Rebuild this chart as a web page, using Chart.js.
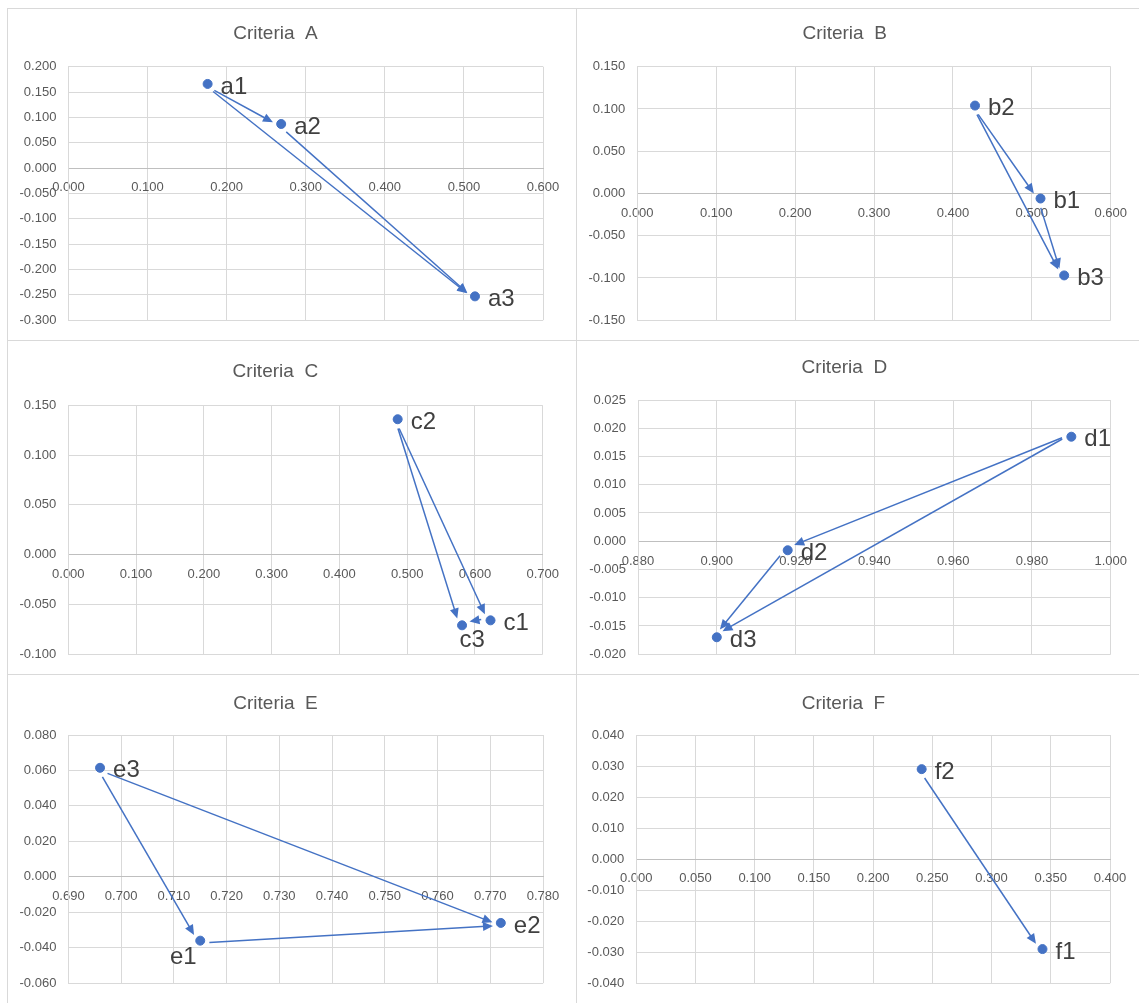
<!DOCTYPE html>
<html>
<head>
<meta charset="utf-8">
<script src="https://cdn.jsdelivr.net/npm/chart.js@4.4.1/dist/chart.umd.min.js"></script>
<style>
  body { margin: 0; background: #fff; width: 1139px; height: 1003px; position: relative; overflow: hidden; }
  .panel { position: absolute; }
  .rule { position: absolute; background: #d9d9d9; }
</style>
</head>
<body>
<div class="rule" style="left:7px;top:8px;width:1132px;height:1px"></div>
<div class="rule" style="left:7px;top:340px;width:1132px;height:1px"></div>
<div class="rule" style="left:7px;top:674px;width:1132px;height:1px"></div>
<div class="rule" style="left:7px;top:8px;width:1px;height:995px"></div>
<div class="rule" style="left:576px;top:8px;width:1px;height:995px"></div>

<script>
// ---- data ----
const namesA = ['a1', 'a2', 'a3'];
const xA = [0.176, 0.269, 0.514];
const yA = [0.166, 0.087, -0.253];
const arrowsA = [[0, 1], [1, 2], [0, 2]];
const xTicksA = [0, 0.1, 0.2, 0.3, 0.4, 0.5, 0.6];
const yTicksA = [-0.3, -0.25, -0.2, -0.15, -0.1, -0.05, 0, 0.05, 0.1, 0.15, 0.2];

const namesB = ['b1', 'b2', 'b3'];
const xB = [0.511, 0.428, 0.541];
const yB = [-0.006, 0.104, -0.097];
const arrowsB = [[1, 0], [0, 2], [1, 2]];
const xTicksB = [0, 0.1, 0.2, 0.3, 0.4, 0.5, 0.6];
const yTicksB = [-0.15, -0.1, -0.05, 0, 0.05, 0.1, 0.15];

const namesC = ['c1', 'c2', 'c3'];
const xC = [0.623, 0.486, 0.581];
const yC = [-0.066, 0.136, -0.071];
const arrowsC = [[1, 0], [0, 2], [1, 2]];
const xTicksC = [0, 0.1, 0.2, 0.3, 0.4, 0.5, 0.6, 0.7];
const yTicksC = [-0.1, -0.05, 0, 0.05, 0.1, 0.15];

const namesD = ['d1', 'd2', 'd3'];
const xD = [0.990, 0.918, 0.900];
const yD = [0.0185, -0.0016, -0.0170];
const arrowsD = [[0, 1], [1, 2], [0, 2]];
const xTicksD = [0.88, 0.9, 0.92, 0.94, 0.96, 0.98, 1.0];
const yTicksD = [-0.02, -0.015, -0.01, -0.005, 0, 0.005, 0.01, 0.015, 0.02, 0.025];

const namesE = ['e1', 'e2', 'e3'];
const xE = [0.715, 0.772, 0.696];
const yE = [-0.036, -0.026, 0.0615];
const arrowsE = [[2, 0], [0, 1], [2, 1]];
const xTicksE = [0.69, 0.7, 0.71, 0.72, 0.73, 0.74, 0.75, 0.76, 0.77, 0.78];
const yTicksE = [-0.06, -0.04, -0.02, 0, 0.02, 0.04, 0.06, 0.08];

const namesF = ['f1', 'f2'];
const xF = [0.343, 0.241];
const yF = [-0.029, 0.029];
const arrowsF = [[1, 0]];
const xTicksF = [0, 0.05, 0.1, 0.15, 0.2, 0.25, 0.3, 0.35, 0.4];
const yTicksF = [-0.04, -0.03, -0.02, -0.01, 0, 0.01, 0.02, 0.03, 0.04];

// ---- layout: canvas box [left, top, w, h], plot [left, right, top, bottom], title centre y ----
const frames = {
  A: { box: [8, 9, 568, 331], plot: [68.4, 543, 66.7, 323.3], titleY: 33.3 },
  B: { box: [577, 9, 562, 331], plot: [637.3, 1112.3, 66.7, 323.3], titleY: 33.3 },
  C: { box: [8, 341, 568, 333], plot: [68.3, 542.7, 405.3, 657.7], titleY: 371.7 },
  D: { box: [577, 341, 562, 333], plot: [638, 1111.7, 400, 656.7], titleY: 367.3 },
  E: { box: [8, 675, 568, 328], plot: [68.4, 543, 735, 991], titleY: 703.3 },
  F: { box: [577, 675, 562, 328], plot: [636.2, 1110, 735, 991.7], titleY: 703.3 }
};
// label spots other than the default "right of the point"
const labelSpots = { c3: 'below', e1: 'belowLeft' };

const blue = '#4472C4';
const grey = '#595959';
const font = 'Liberation Sans, Arial, sans-serif';

const arrowPlugin = {
  id: 'arrows',
  beforeDatasetsDraw(chart, args, opts) {
    const pts = chart.getDatasetMeta(0).data;
    const ctx = chart.ctx;
    ctx.save();
    ctx.strokeStyle = blue;
    ctx.fillStyle = blue;
    ctx.lineWidth = 1.5;
    opts.pairs.forEach(([a, b]) => {
      const x1 = pts[a].x, y1 = pts[a].y, x2 = pts[b].x, y2 = pts[b].y;
      const len = Math.hypot(x2 - x1, y2 - y1);
      const dx = (x2 - x1) / len, dy = (y2 - y1) / len;
      const nx = -dy, ny = dx;
      const sx = x1 + dx * 9 + nx * 2.5, sy = y1 + dy * 9 + ny * 2.5;
      const ex = x2 - dx * 8 + nx * 2.5, ey = y2 - dy * 8 + ny * 2.5;
      ctx.beginPath();
      ctx.moveTo(sx, sy);
      ctx.lineTo(ex - dx * 7, ey - dy * 7);
      ctx.stroke();
      ctx.beginPath();
      ctx.moveTo(ex, ey);
      ctx.lineTo(ex - dx * 10 + nx * 4.5, ey - dy * 10 + ny * 4.5);
      ctx.lineTo(ex - dx * 10 - nx * 4.5, ey - dy * 10 - ny * 4.5);
      ctx.closePath();
      ctx.fill();
    });
    ctx.restore();
  },
  afterDatasetsDraw(chart, args, opts) {
    const pts = chart.getDatasetMeta(0).data;
    const ctx = chart.ctx;
    ctx.save();
    ctx.fillStyle = '#404040';
    ctx.font = '24px ' + font;
    ctx.textBaseline = 'middle';
    opts.names.forEach((name, i) => {
      const p = pts[i];
      const spot = labelSpots[name];
      if (spot === 'below') {
        ctx.textAlign = 'center';
        ctx.fillText(name, p.x + 10, p.y + 15);
      } else if (spot === 'belowLeft') {
        ctx.textAlign = 'center';
        ctx.fillText(name, p.x - 17, p.y + 17);
      } else {
        ctx.textAlign = 'left';
        ctx.fillText(name, p.x + 13, p.y + 3);
      }
    });
    ctx.restore();
  }
};

function makeChart(key, names, xs, ys, arrows, xTicks, yTicks) {
  const f = frames[key];
  const [bl, bt, bw, bh] = f.box;
  const [pl, pr, pt, pb] = f.plot;
  const div = document.createElement('div');
  div.className = 'panel';
  div.style.cssText = `left:${bl}px;top:${bt}px;width:${bw}px;height:${bh}px`;
  const canvas = document.createElement('canvas');
  div.appendChild(canvas);
  document.body.appendChild(div);

  const titleSize = 19;
  const lineH = titleSize * 1.2;
  const tTop = f.titleY - bt - lineH / 2;
  const tBottom = pt - bt - tTop - lineH;

  new Chart(canvas.getContext('2d'), {
    type: 'scatter',
    data: {
      datasets: [{
        data: xs.map((x, i) => ({ x: x, y: ys[i] })),
        backgroundColor: blue,
        borderColor: blue,
        pointRadius: 4.5,
        pointHoverRadius: 4.5
      }]
    },
    options: {
      responsive: true,
      maintainAspectRatio: false,
      animation: false,
      events: [],
      layout: { padding: { left: 0, top: 0, right: bl + bw - pr, bottom: bt + bh - pb } },
      plugins: {
        legend: { display: false },
        tooltip: { enabled: false },
        title: {
          display: true,
          text: 'Criteria  ' + key,
          color: grey,
          font: { family: font, size: titleSize, weight: 'normal' },
          padding: { top: tTop, bottom: tBottom }
        },
        arrows: { pairs: arrows, names: names }
      },
      scales: {
        x: {
          type: 'linear',
          position: { y: 0 },
          min: xTicks[0],
          max: xTicks[xTicks.length - 1],
          afterBuildTicks: s => { s.ticks = xTicks.map(v => ({ value: v })); },
          grid: { color: '#d9d9d9', drawTicks: false },
          border: { color: '#bfbfbf', width: 1 },
          ticks: {
            color: grey,
            font: { family: font, size: 13 },
            padding: 12,
            maxRotation: 0,
            autoSkip: false,
            callback: v => Number(v).toFixed(3)
          }
        },
        y: {
          type: 'linear',
          position: 'left',
          min: yTicks[0],
          max: yTicks[yTicks.length - 1],
          afterBuildTicks: s => { s.ticks = yTicks.map(v => ({ value: v })); },
          afterFit: s => { s.width = pl - bl; },
          grid: { color: '#d9d9d9', drawTicks: false },
          border: { color: '#d9d9d9', width: 1 },
          ticks: {
            color: grey,
            font: { family: font, size: 13 },
            padding: 12,
            autoSkip: false,
            callback: v => Number(v).toFixed(3)
          }
        }
      }
    },
    plugins: [arrowPlugin]
  });
}

makeChart('A', namesA, xA, yA, arrowsA, xTicksA, yTicksA);
makeChart('B', namesB, xB, yB, arrowsB, xTicksB, yTicksB);
makeChart('C', namesC, xC, yC, arrowsC, xTicksC, yTicksC);
makeChart('D', namesD, xD, yD, arrowsD, xTicksD, yTicksD);
makeChart('E', namesE, xE, yE, arrowsE, xTicksE, yTicksE);
makeChart('F', namesF, xF, yF, arrowsF, xTicksF, yTicksF);
</script>
</body>
</html>
